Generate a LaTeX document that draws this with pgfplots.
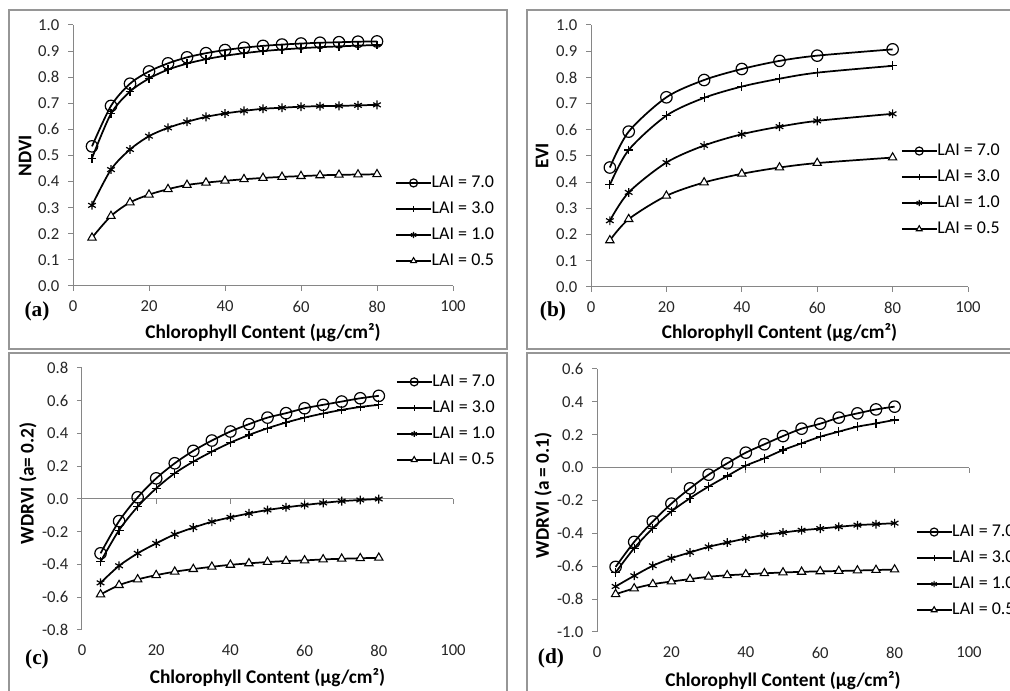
\documentclass[border=0pt]{standalone}
\usepackage{fontspec}
\setmainfont{Carlito}
\newfontfamily\serifbf{Liberation Serif}
\usepackage{pgfplots}
\usepackage{pgfplotstable}
\pgfplotsset{compat=1.18}

\definecolor{axgray}{RGB}{134,134,134}
\definecolor{framegray}{RGB}{150,150,150}

% NDVI
\pgfplotstableread{
x  l7    l3    l1    l05
5  0.535 0.490 0.309 0.185
10 0.690 0.660 0.446 0.268
15 0.775 0.745 0.523 0.320
20 0.822 0.795 0.574 0.350
25 0.853 0.829 0.606 0.371
30 0.876 0.852 0.629 0.387
35 0.892 0.869 0.648 0.396
40 0.904 0.882 0.661 0.403
45 0.913 0.892 0.671 0.409
50 0.920 0.900 0.679 0.414
55 0.925 0.906 0.683 0.418
60 0.929 0.911 0.687 0.421
65 0.932 0.915 0.689 0.424
70 0.934 0.918 0.690 0.426
75 0.936 0.921 0.692 0.427
80 0.937 0.923 0.694 0.428
}\ndvi

% EVI
\pgfplotstableread{
x  l7    l3    l1    l05
5  0.456 0.390 0.253 0.178
10 0.593 0.523 0.361 0.259
20 0.724 0.654 0.475 0.348
30 0.790 0.722 0.540 0.399
40 0.832 0.765 0.583 0.432
50 0.863 0.795 0.612 0.456
60 0.883 0.818 0.634 0.473
80 0.907 0.844 0.661 0.494
}\evi

% WDRVI a=0.2
\pgfplotstableread{
x  l7     l3     l1     l05
5  -0.332 -0.383 -0.512 -0.583
10 -0.135 -0.190 -0.408 -0.526
15 0.010  -0.047 -0.332 -0.491
20 0.126  0.065  -0.271 -0.465
25 0.218  0.157  -0.216 -0.444
30 0.294  0.228  -0.175 -0.428
35 0.357  0.289  -0.139 -0.414
40 0.412  0.344  -0.112 -0.402
45 0.457  0.391  -0.088 -0.393
50 0.497  0.432  -0.067 -0.385
55 0.524  0.467  -0.051 -0.379
60 0.554  0.497  -0.037 -0.375
65 0.575  0.522  -0.024 -0.369
70 0.595  0.544  -0.013 -0.365
75 0.615  0.562  -0.006 -0.362
80 0.630  0.575  0.000  -0.359
}\wdrvia

% WDRVI a=0.1
\pgfplotstableread{
x  l7     l3     l1     l05
5  -0.604 -0.638 -0.723 -0.770
10 -0.452 -0.490 -0.658 -0.735
15 -0.328 -0.369 -0.597 -0.709
20 -0.219 -0.267 -0.551 -0.693
25 -0.126 -0.186 -0.516 -0.678
30 -0.043 -0.115 -0.482 -0.664
35 0.026  -0.051 -0.456 -0.655
40 0.091  0.012  -0.431 -0.649
45 0.142  0.057  -0.409 -0.643
50 0.192  0.107  -0.395 -0.638
55 0.237  0.148  -0.381 -0.634
60 0.267  0.188  -0.371 -0.631
65 0.304  0.219  -0.360 -0.629
70 0.330  0.249  -0.350 -0.626
75 0.354  0.269  -0.344 -0.623
80 0.371  0.290  -0.338 -0.620
}\wdrvib

% legend sample: longer line, smaller marker (as in the Excel legend)
\pgfplotsset{every axis plot post/.append style={
  legend image code/.code={\draw[mark repeat=2, mark phase=2, ##1,
      line width=1.1pt, every mark/.append style={scale=0.7}]
      plot coordinates {(0pt,0pt) (13pt,0pt) (26pt,0pt)};}}}

\pgfplotsset{
  panel/.style={
    scale only axis, anchor=south west, clip=false,
    xmin=0, xmax=100, xtick={0,20,...,100},
    axis y line*=left, axis x line*=bottom,
    axis line style={axgray, line width=0.75pt},
    tick style={axgray, line width=0.75pt},
    major tick length=3.75pt, tick align=outside,
    /pgf/number format/assume math mode=true,
    tick label style={font=\fontsize{12.5}{14}\selectfont, black!85},
    yticklabel style={/pgf/number format/fixed, /pgf/number format/fixed zerofill,
      /pgf/number format/precision=1, xshift=-3pt},
    xticklabel style={yshift=-4pt},
    xlabel={Chlorophyll Content (µg/cm²)},
    label style={font=\bfseries\fontsize{14.5}{16}\selectfont},
    legend style={draw=none, fill=none, inner sep=0pt, anchor=north west,
      font=\fontsize{13.5}{15}\selectfont, row sep=6.5pt,
      nodes={inner sep=0pt, text height=10pt, text depth=3pt}},
    legend cell align=left,
  },
  zeroline/.style={x axis line style={draw=none}, xtick style={draw=none}},
  l7/.style={black, line width=1.3pt, smooth, mark=o, mark size=4.3pt,
    mark options={fill=white, line width=0.9pt}},
  l3/.style={black, line width=1.3pt, smooth, mark=+, mark size=3.3pt,
    mark options={line width=0.9pt}},
  l1/.style={black, line width=1.3pt, smooth, mark=asterisk, mark size=3.3pt,
    mark options={line width=0.9pt}},
  l05/.style={black, line width=1.3pt, smooth, mark=triangle*, mark size=3.6pt,
    mark options={fill=white, line width=0.8pt}},
}
\tikzset{letter/.style={font=\serifbf\bfseries\fontsize{16}{18}\selectfont}}

\begin{document}
\begin{tikzpicture}
\useasboundingbox (0pt,0pt) rectangle (757.5pt,518.25pt);
\clip (0pt,0pt) rectangle (757.5pt,518.25pt);

% panel frames
\draw[framegray, line width=1.5pt] (6.75pt,510.75pt) rectangle (380.25pt,256.5pt);
\draw[framegray, line width=1.5pt] (395.25pt,510.75pt) rectangle (765pt,256.5pt);
\draw[framegray, line width=1.5pt] (6.75pt,253.5pt) rectangle (380.25pt,-8pt);
\draw[framegray, line width=1.5pt] (395.25pt,253.5pt) rectangle (765pt,-8pt);

% (a) NDVI
\begin{axis}[panel, at={(54.75pt,303.75pt)}, width=285pt, height=195.75pt,
  ymin=0, ymax=1, ytick={0,0.1,...,1.01}, ylabel={NDVI},
  xlabel style={at={(axis description cs:0.5,-0.18)}, anchor=center},
  ylabel style={at={(axis description cs:-0.126,0.5)}, anchor=center},
  legend style={at={(axis description cs:0.848,0.429)}}]
\addplot[l7]  table[x=x, y=l7]  {\ndvi};
\addplot[l3]  table[x=x, y=l3]  {\ndvi};
\addplot[l1]  table[x=x, y=l1]  {\ndvi};
\addplot[l05] table[x=x, y=l05] {\ndvi};
\legend{LAI = 7.0, LAI = 3.0, LAI = 1.0, LAI = 0.5}
\end{axis}

% (b) EVI
\begin{axis}[panel, at={(443.25pt,303pt)}, width=282.75pt, height=196.5pt,
  ymin=0, ymax=1, ytick={0,0.1,...,1.01}, ylabel={EVI},
  xlabel style={at={(axis description cs:0.5,-0.176)}, anchor=center},
  ylabel style={at={(axis description cs:-0.13,0.5)}, anchor=center},
  legend style={at={(axis description cs:0.822,0.553)}}]
\addplot[l7]  table[x=x, y=l7]  {\evi};
\addplot[l3]  table[x=x, y=l3]  {\evi};
\addplot[l1]  table[x=x, y=l1]  {\evi};
\addplot[l05] table[x=x, y=l05] {\evi};
\legend{LAI = 7.0, LAI = 3.0, LAI = 1.0, LAI = 0.5}
\end{axis}

% (c) WDRVI a=0.2
\begin{axis}[panel, zeroline, at={(61.5pt,45.75pt)}, width=278.25pt, height=196.5pt,
  ymin=-0.8, ymax=0.8, ytick={-0.8,-0.6,...,0.81}, ylabel={WDRVI (a= 0.2)},
  xlabel style={at={(axis description cs:0.5,-0.183)}, anchor=center},
  ylabel style={at={(axis description cs:-0.146,0.56)}, anchor=center},
  legend style={at={(axis description cs:0.846,0.981)}}]
\draw[axgray, line width=0.75pt] (axis cs:0,0) -- (axis cs:100,0);
\pgfplotsinvokeforeach{20,40,60,80,100}{
  \draw[axgray, line width=0.75pt] (axis cs:#1,0) -- ++(0pt,-3.75pt);}
\addplot[l7]  table[x=x, y=l7]  {\wdrvia};
\addplot[l3]  table[x=x, y=l3]  {\wdrvia};
\addplot[l1]  table[x=x, y=l1]  {\wdrvia};
\addplot[l05] table[x=x, y=l05] {\wdrvia};
\legend{LAI = 7.0, LAI = 3.0, LAI = 1.0, LAI = 0.5}
\end{axis}

% (d) WDRVI a=0.1
\begin{axis}[panel, zeroline, at={(447.75pt,44.25pt)}, width=279pt, height=197.25pt,
  ymin=-1, ymax=0.6, ytick={-1,-0.8,...,0.61}, ylabel={WDRVI (a = 0.1)},
  xlabel style={at={(axis description cs:0.5,-0.183)}, anchor=center},
  ylabel style={at={(axis description cs:-0.145,0.52)}, anchor=center},
  legend style={at={(axis description cs:0.857,0.414)}}]
\draw[axgray, line width=0.75pt] (axis cs:0,0) -- (axis cs:100,0);
\pgfplotsinvokeforeach{20,40,60,80,100}{
  \draw[axgray, line width=0.75pt] (axis cs:#1,0) -- ++(0pt,-3.75pt);}
\addplot[l7]  table[x=x, y=l7]  {\wdrvib};
\addplot[l3]  table[x=x, y=l3]  {\wdrvib};
\addplot[l1]  table[x=x, y=l1]  {\wdrvib};
\addplot[l05] table[x=x, y=l05] {\wdrvib};
\legend{LAI = 7.0, LAI = 3.0, LAI = 1.0, LAI = 0.5}
\end{axis}

% panel letters
\node[letter] at (27.75pt,285pt) {(a)};
\node[letter] at (414.75pt,285pt) {(b)};
\node[letter] at (27.75pt,24pt) {(c)};
\node[letter] at (413.25pt,24.75pt) {(d)};
\end{tikzpicture}
\end{document}
